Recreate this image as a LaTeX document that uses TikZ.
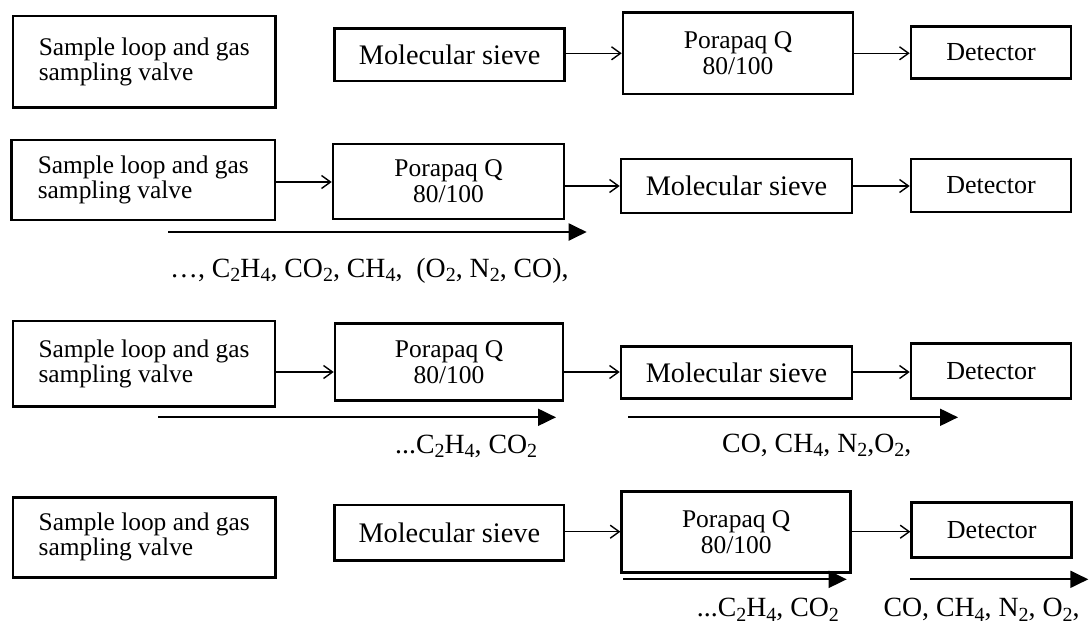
\documentclass[tikz,border=0pt]{standalone}
\usepackage{fontspec}
\setmainfont{Liberation Serif}
\usetikzlibrary{arrows.meta}
\newcommand\lsub[1]{\raisebox{-0.17em}{\scalebox{0.72}{#1}}}
\begin{document}
\begin{tikzpicture}[x=1pt,y=-1pt,
  box/.style={draw, line width=2.6pt, rectangle, inner sep=0pt, align=center},
  samplefont/.style={font=\fontsize{25.4}{25}\selectfont, align=left},
  sievefont/.style={font=\fontsize{28.3}{28}\selectfont},
  porafont/.style={font=\fontsize{25.5}{26}\selectfont},
  detfont/.style={font=\fontsize{26}{26}\selectfont},
  labfont/.style={font=\fontsize{27.8}{28}\selectfont, anchor=base west, inner sep=0pt},
  sarr/.style={line width=1.4pt, -{Straight Barb[length=9pt,width=13pt,line width=1.4pt]}},
  barr/.style={line width=2pt, -{Triangle[length=18pt,width=17pt]}}
]
\useasboundingbox (0,0) rectangle (1091,627);
% ---------- Row 1
\node[box, samplefont, minimum width=262.8pt, minimum height=91.3pt] (S1) at (144.3,61.7) {Sample loop and gas\\sampling valve};
\node[box, sievefont, minimum width=230pt, minimum height=52.7pt] (M1) at (449.6,54.7) {Molecular sieve};
\node[box, porafont, minimum width=230pt, minimum height=81.3pt] (P1) at (738,53.3) {Porapaq Q\\80/100};
\node[box, detfont, minimum width=160pt, minimum height=51.6pt] (D1) at (991,52.5) {Detector};
\coordinate (y1) at (0,53.3);
\draw[sarr] (M1.east |- y1) -- (P1.west |- y1);
\draw[sarr] (P1.east |- y1) -- (D1.west |- y1);
% ---------- Row 2
\node[box, samplefont, minimum width=263.3pt, minimum height=80pt] (S2) at (143.3,180) {Sample loop and gas\\sampling valve};
\node[box, porafont, minimum width=231pt, minimum height=75pt] (P2) at (448.5,181.5) {Porapaq Q\\80/100};
\node[box, sievefont, minimum width=231pt, minimum height=54pt] (M2) at (736.5,186) {Molecular sieve};
\node[box, detfont, minimum width=160pt, minimum height=53pt] (D2) at (991,185.5) {Detector};
\coordinate (y2a) at (0,182);
\coordinate (y2b) at (0,186);
\draw[sarr] (S2.east |- y2a) -- (P2.west |- y2a);
\draw[sarr] (P2.east |- y2b) -- (M2.west |- y2b);
\draw[sarr] (M2.east |- y2b) -- (D2.west |- y2b);
\coordinate (b2s) at (168,232);
\coordinate (b2e) at (586.7,232);
\draw[barr] (b2s) -- (b2e);
\node[labfont] (L2) at (170,277) {…, C\lsub{2}H\lsub{4}, CO\lsub{2}, CH\lsub{4},\ \ (O\lsub{2}, N\lsub{2}, CO),};
% ---------- Row 3
\node[box, samplefont, minimum width=262pt, minimum height=85.7pt] (S3) at (144,363.8) {Sample loop and gas\\sampling valve};
\node[box, porafont, minimum width=228pt, minimum height=77.4pt] (P3) at (449,362) {Porapaq Q\\80/100};
\node[box, sievefont, minimum width=231pt, minimum height=51.6pt] (M3) at (736.5,372.5) {Molecular sieve};
\node[box, detfont, minimum width=160pt, minimum height=55pt] (D3) at (991,370.8) {Detector};
\coordinate (y3) at (0,372);
\draw[sarr] (S3.east |- y3) -- (P3.west |- y3);
\draw[sarr] (P3.east |- y3) -- (M3.west |- y3);
\draw[sarr] (M3.east |- y3) -- (D3.west |- y3);
\coordinate (b3as) at (158,417.3);
\coordinate (b3ae) at (556,417.3);
\coordinate (b3bs) at (628,417.3);
\coordinate (b3be) at (958,417.3);
\draw[barr] (b3as) -- (b3ae);
\draw[barr] (b3bs) -- (b3be);
\node[labfont] (L3a) at (395,453) {...C\lsub{2}H\lsub{4}, CO\lsub{2}};
\node[labfont] (L3b) at (722,452) {CO, CH\lsub{4}, N\lsub{2},O\lsub{2},};
% ---------- Row 4
\node[box, samplefont, minimum width=262.7pt, minimum height=80pt] (S4) at (144.2,537.3) {Sample loop and gas\\sampling valve};
\node[box, sievefont, minimum width=229.4pt, minimum height=55.7pt] (M4) at (449.3,532.8) {Molecular sieve};
\node[box, porafont, minimum width=229pt, minimum height=81pt] (P4) at (736.2,532.2) {Porapaq Q\\80/100};
\node[box, detfont, minimum width=160pt, minimum height=54.6pt] (D4) at (991.7,530) {Detector};
\coordinate (y4) at (0,531.7);
\draw[sarr] (M4.east |- y4) -- (P4.west |- y4);
\draw[sarr] (P4.east |- y4) -- (D4.west |- y4);
\coordinate (b4as) at (623,579.3);
\coordinate (b4ae) at (846.7,579.3);
\coordinate (b4bs) at (910,579.3);
\coordinate (b4be) at (1088.3,579.3);
\draw[barr] (b4as) -- (b4ae);
\draw[barr] (b4bs) -- (b4be);
\node[labfont] (L4a) at (696.7,616.5) {...C\lsub{2}H\lsub{4}, CO\lsub{2}};
\node[labfont] (L4b) at (883.3,616.5) {CO, CH\lsub{4}, N\lsub{2}, O\lsub{2},};
\end{tikzpicture}
\end{document}
